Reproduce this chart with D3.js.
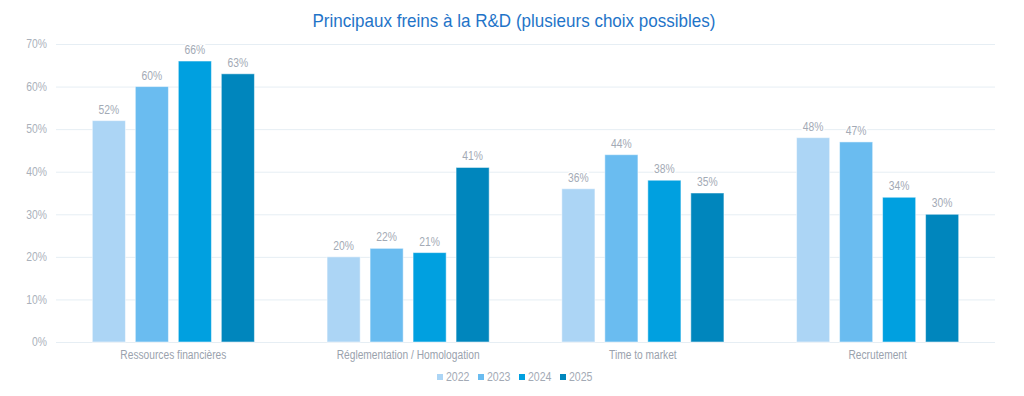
<!DOCTYPE html>
<html><head><meta charset="utf-8">
<script src="https://cdn.jsdelivr.net/npm/d3@7"></script>
<style>body{margin:0;background:#fff}svg{display:block}</style>
</head><body>
<svg id="c" width="1024" height="396"></svg>
<script>
const categories = ["Ressources financières","Réglementation / Homologation","Time to market","Recrutement"];
const years = ["2022","2023","2024","2025"];
const v2022 = [52,20,36,48];
const v2023 = [60,22,44,47];
const v2024 = [66,21,38,34];
const v2025 = [63,41,35,30];
const yTicks = [0,10,20,30,40,50,60,70];
const colors = ["#acd5f5","#6abcf0","#00a0e0","#0086bd"];
const series = [v2022,v2023,v2024,v2025];

const svg = d3.select("#c");
const font = "'Liberation Sans', Arial, sans-serif";
const m = {l:56, r:995, t:44, b:342};
const x0 = d3.scaleBand().domain(categories).range([m.l, m.r]).paddingInner(0).paddingOuter(0);
const x1 = d3.scaleBand().domain(years).range([0, 172]).paddingInner(0.23).paddingOuter(0.115);
const y = d3.scaleLinear().domain([0,70]).range([m.b, m.t]);

function condense(sel, f){
  sel.each(function(){
    const w = this.getComputedTextLength();
    d3.select(this).attr("textLength", w*f).attr("lengthAdjust","spacingAndGlyphs");
  });
}

const title = svg.append("text").attr("x",514).attr("y",27).attr("text-anchor","middle")
  .attr("font-family",font).attr("font-size",18.5).attr("fill","#1f74c8")
  .text("Principaux freins à la R&D (plusieurs choix possibles)");
condense(title, 0.92);

// grid
svg.append("g").selectAll("line").data(yTicks).join("line")
  .attr("x1",m.l).attr("x2",m.r).attr("y1",d=>y(d)+0.5).attr("y2",d=>y(d)+0.5)
  .attr("stroke","#e6eef4").attr("stroke-width",1);

const yAxis = d3.axisLeft(y).tickValues(yTicks).tickFormat(d=>d+"%").tickSize(0).tickPadding(9);
const ga = svg.append("g").attr("transform",`translate(${m.l},0)`).call(yAxis);
ga.select(".domain").remove();
ga.selectAll("text").attr("font-family",font).attr("font-size",12).attr("fill","#aab1bb");
condense(ga.selectAll("text"), 0.86);

const xAxis = d3.axisBottom(x0).tickSize(0).tickPadding(8);
const gx = svg.append("g").attr("transform",`translate(0,${m.b})`).call(xAxis);
gx.select(".domain").remove();
gx.selectAll("text").attr("font-family",font).attr("font-size",12).attr("fill","#9aa2ad");
condense(gx.selectAll("text"), 0.85);

const groups = svg.append("g").selectAll("g").data(categories).join("g")
  .attr("transform",(d)=>`translate(${x0(d)+x0.bandwidth()/2-86},0)`);

groups.each(function(cat,ci){
  const g = d3.select(this);
  const data = years.map((yr,si)=>({yr, v:series[si][ci], c:colors[si]}));
  g.selectAll("rect").data(data).join("rect")
    .attr("x",d=>x1(d.yr)).attr("width",x1.bandwidth())
    .attr("y",d=>y(d.v)).attr("height",d=>y(0)-y(d.v))
    .attr("fill",d=>d.c).attr("stroke","rgba(255,255,255,0.5)").attr("stroke-width",1);
  const t = g.selectAll("text").data(data).join("text")
    .attr("x",d=>x1(d.yr)+x1.bandwidth()/2).attr("y",d=>y(d.v)-7)
    .attr("text-anchor","middle").attr("font-family",font).attr("font-size",12)
    .attr("fill","#a3aab5").attr("stroke","#fff").attr("stroke-width",3)
    .attr("paint-order","stroke").text(d=>d.v+"%");
  condense(t, 0.86);
});

// legend
const leg = svg.append("g").attr("transform","translate(437,377)");
const itemW = [0,41,82,123];
years.forEach((yr,i)=>{
  const g = leg.append("g").attr("transform",`translate(${itemW[i]},0)`);
  g.append("rect").attr("x",0).attr("y",-3).attr("width",6).attr("height",6).attr("fill",colors[i]);
  const t = g.append("text").attr("x",9).attr("y",4).attr("font-family",font).attr("font-size",12)
    .attr("fill","#a3aab5").text(yr);
  condense(t, 0.88);
});
</script>
</body></html>
